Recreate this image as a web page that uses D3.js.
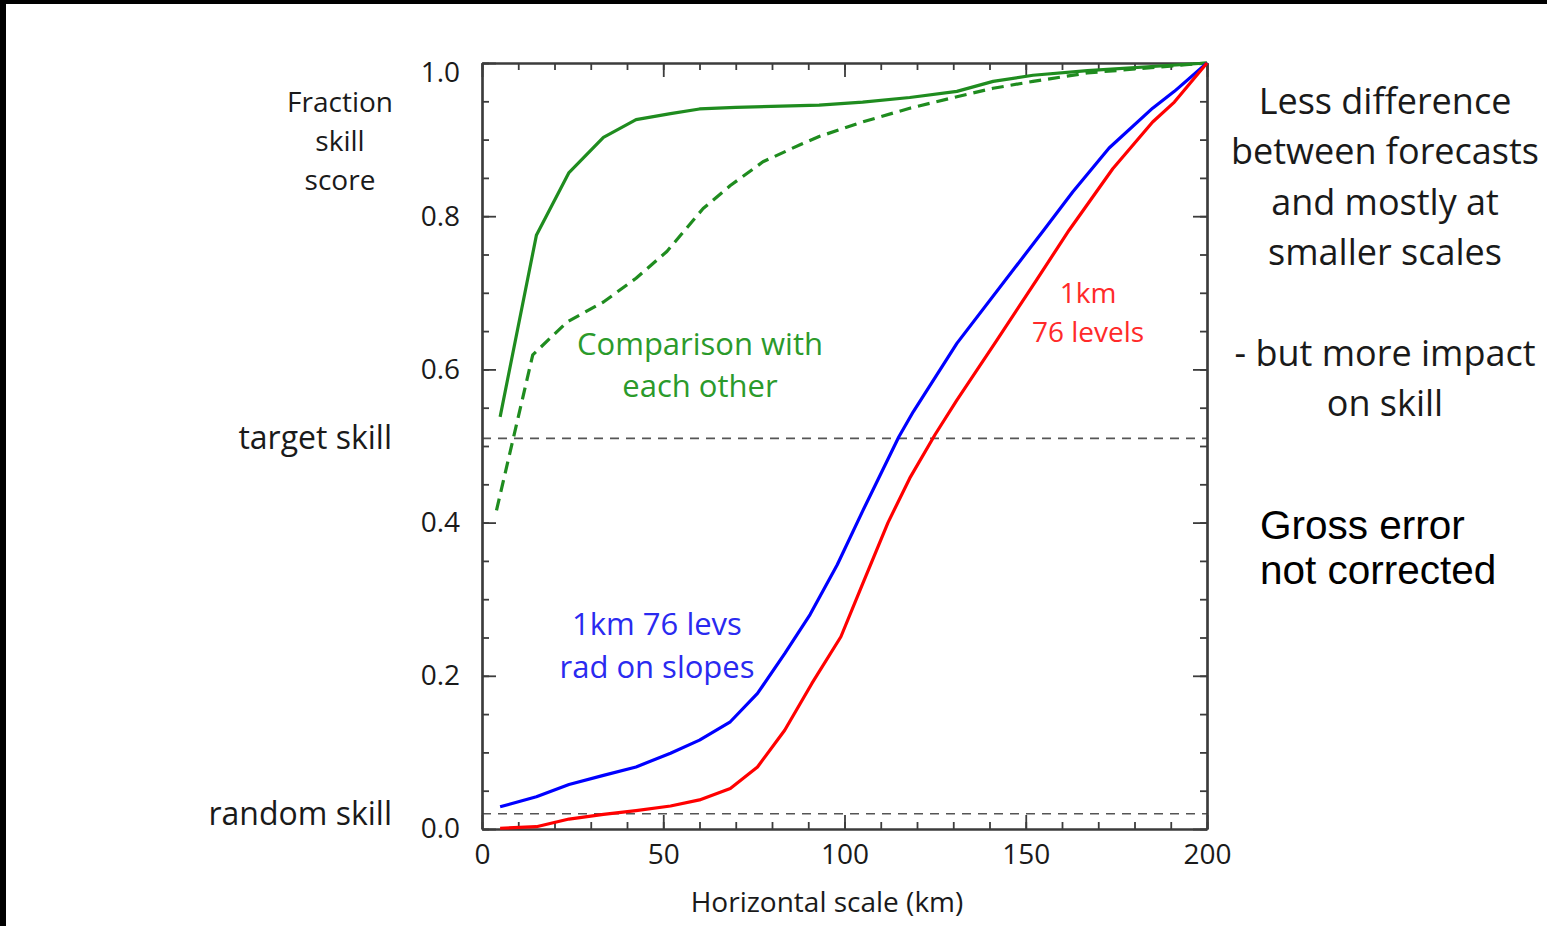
<!DOCTYPE html>
<html>
<head>
<meta charset="utf-8">
<script src="https://cdn.jsdelivr.net/npm/d3@7"></script>
<style>
	body { margin: 0; background: #fff; }
	svg { display: block; }
	text { font-family: "Open Sans", sans-serif; }
</style>
</head>
<body>
<svg id="fss"></svg>
<script>

/* data: fraction skill score against horizontal scale (km) */
var greenSolidX = [5, 15, 24, 33.5, 42.5, 52, 60, 70, 93, 105, 118, 131, 141, 152, 167, 200];
var greenSolidY = [0.538, 0.775, 0.857, 0.903, 0.926, 0.934, 0.940, 0.942, 0.945, 0.949, 0.955, 0.963, 0.976, 0.984, 0.990, 1.0];

var greenDashX = [4, 14, 23.5, 33.5, 42.5, 51, 61, 68.5, 77.5, 88.5, 93, 105, 118, 131, 141, 152, 167, 200];
var greenDashY = [0.416, 0.619, 0.662, 0.688, 0.719, 0.754, 0.81, 0.84, 0.871, 0.895, 0.904, 0.923, 0.941, 0.956, 0.967, 0.976, 0.987, 1.0];

var blueX = [5, 15, 24, 33.5, 42.5, 52, 60, 68.5, 76, 83.5, 90.5, 98, 105, 115, 119, 131, 155, 163, 173, 185, 191, 200];
var blueY = [0.029, 0.042, 0.058, 0.070, 0.081, 0.099, 0.116, 0.140, 0.177, 0.229, 0.280, 0.345, 0.415, 0.512, 0.545, 0.634, 0.782, 0.832, 0.889, 0.941, 0.963, 1.0];

var redX = [5, 15, 24, 33.5, 42.5, 52, 60, 68.5, 76, 83.5, 91, 99, 105, 112, 118, 125, 131, 142, 153, 162, 174, 185, 191, 200];
var redY = [0.001, 0.003, 0.013, 0.019, 0.024, 0.030, 0.038, 0.053, 0.081, 0.129, 0.190, 0.251, 0.32, 0.40, 0.458, 0.515, 0.56, 0.638, 0.717, 0.782, 0.862, 0.923, 0.949, 1.0];

var targetSkill = 0.51,
	randomSkill = 0.02;

var xMajorTicks = [0, 50, 100, 150, 200],
	yMajorTicks = [0, 0.2, 0.4, 0.6, 0.8, 1.0];

var yTitleLines = ["Fraction", "skill", "score"],
	greenLabel = ["Comparison with", "each other"],
	blueLabel = ["1km 76 levs", "rad on slopes"],
	redLabel = ["1km", "76 levels"],
	noteLines = ["Less difference", "between forecasts", "and mostly at", "smaller scales", "", "- but more impact", "on skill"],
	grossLines = ["Gross error", "not corrected"];

/* settings */
var width = 1547,
	height = 926,
	frame = { left: 482, right: 1207, top: 63, bottom: 829 },
	minorTick = 7,
	majorTick = 14,
	axisColor = "#3c3c3c";

var svg = d3.select("#fss")
	.attr("width", width)
	.attr("height", height);

svg.append("rect")
	.attr("width", width)
	.attr("height", height)
	.attr("fill", "#fff");

// black edges of the screenshot
svg.append("rect").attr("x", 0).attr("y", 0).attr("width", width).attr("height", 4).attr("fill", "#000");
svg.append("rect").attr("x", 0).attr("y", 0).attr("width", 6).attr("height", height).attr("fill", "#000");

/* scales */
var xScale = d3.scaleLinear().domain([0, 200]).range([frame.left, frame.right]);
var yScale = d3.scaleLinear().domain([0, 1]).range([frame.bottom, frame.top]);

/* reference lines */
svg.selectAll(".refline")
	.data([targetSkill, randomSkill])
	.enter().append("line")
	.attr("class", "refline")
	.attr("x1", xScale(0))
	.attr("x2", xScale(200))
	.attr("y1", function(d) { return yScale(d); })
	.attr("y2", function(d) { return yScale(d); })
	.attr("stroke", "#555")
	.attr("stroke-width", 1.6)
	.attr("stroke-dasharray", "9,7");

/* axes: minor ticks every 10 km / 0.05, major ones longer, all pointing inward */
function drawAxis(axisFn, scale, ticks, size, tx, ty, labels) {
	var a = axisFn(scale)
		.tickValues(ticks)
		.tickSizeInner(-size)
		.tickSizeOuter(0)
		.tickPadding(12);
	if (!labels) a.tickFormat("");
	else a.tickFormat(d3.format(labels));
	var g = svg.append("g")
		.attr("transform", "translate(" + tx + "," + ty + ")")
		.call(a);
	g.selectAll("line, path").attr("stroke", axisColor).attr("stroke-width", 1.8);
	g.select(".domain").attr("stroke-width", 2.2);
	g.selectAll("text")
		.attr("fill", "#1a1a1a")
		.style("font-size", "28px")
		.style("font-family", "'Open Sans', sans-serif");
	return g;
}

var xMinor = d3.range(0, 201, 10),
	yMinor = d3.range(0, 1.001, 0.05);

drawAxis(d3.axisBottom, xScale, xMinor, minorTick, 0, frame.bottom, null);
drawAxis(d3.axisTop, xScale, xMinor, minorTick, 0, frame.top, null);
drawAxis(d3.axisLeft, yScale, yMinor, minorTick, frame.left, 0, null);
drawAxis(d3.axisRight, yScale, yMinor, minorTick, frame.right, 0, null);

var xAxisG = drawAxis(d3.axisBottom, xScale, xMajorTicks, majorTick, 0, frame.bottom, "d");
xAxisG.selectAll("text").attr("y", 15);
drawAxis(d3.axisTop, xScale, xMajorTicks, majorTick, 0, frame.top, null);
var yAxisG = drawAxis(d3.axisLeft, yScale, yMajorTicks, majorTick, frame.left, 0, ".1f");
yAxisG.selectAll("text").attr("x", -22);
yAxisG.selectAll(".tick").filter(function(d) { return d === 1; })
	.select("text").attr("dy", "0.66em");
drawAxis(d3.axisRight, yScale, yMajorTicks, majorTick, frame.right, 0, null);

/* lines */
var line = d3.line()
	.x(function(d) { return xScale(d[0]); })
	.y(function(d) { return yScale(d[1]); });

var series = [
	{ id: "greenDash", x: greenDashX, y: greenDashY, color: "#1f8c1f", dash: "12,7" },
	{ id: "greenSolid", x: greenSolidX, y: greenSolidY, color: "#1f8c1f", dash: null },
	{ id: "blue", x: blueX, y: blueY, color: "#0000ff", dash: null },
	{ id: "red", x: redX, y: redY, color: "#ff0000", dash: null }
];

svg.selectAll(".chartline")
	.data(series)
	.enter().append("path")
	.attr("class", function(d) { return "chartline " + d.id; })
	.attr("fill", "none")
	.attr("stroke", function(d) { return d.color; })
	.attr("stroke-width", 3.2)
	.attr("stroke-linejoin", "round")
	.attr("stroke-dasharray", function(d) { return d.dash; })
	.attr("d", function(d) { return line(d.x.map(function(v, i) { return [v, d.y[i]]; })); });

/* text blocks */
function textBlock(lines, x, y, lineH, size, color, anchor, family) {
	var t = svg.append("text")
		.attr("x", x)
		.attr("y", y)
		.attr("fill", color)
		.attr("text-anchor", anchor)
		.style("font-size", size + "px");
	if (family) t.style("font-family", family);
	t.selectAll("tspan")
		.data(lines)
		.enter().append("tspan")
		.attr("x", x)
		.attr("y", function(d, i) { return y + i * lineH; })
		.text(function(d) { return d; });
	return t;
}

textBlock(yTitleLines, 340, 112, 39, 28, "#1a1a1a", "middle");
textBlock(["target skill"], 392, yScale(targetSkill) + 11, 0, 32, "#1a1a1a", "end");
textBlock(["random skill"], 392, yScale(randomSkill) + 11, 0, 32, "#1a1a1a", "end");

svg.append("text")
	.attr("x", 827)
	.attr("y", 912)
	.attr("text-anchor", "middle")
	.attr("fill", "#1a1a1a")
	.style("font-size", "28px")
	.text("Horizontal scale (km)");

textBlock(greenLabel, 700, 355, 42, 31, "#2b9a2b", "middle");
textBlock(blueLabel, 657, 635, 43, 31, "#2a2af0", "middle");
textBlock(redLabel, 1088, 303, 39, 28, "#ff2a2a", "middle");

textBlock(noteLines, 1385, 114, 50.3, 36, "#1a1a1a", "middle");

// one text element per line so the two lines stay clear of each other
grossLines.forEach(function(s, i) {
	textBlock([s], 1260, 539 + i * 45, 0, 40.5, "#000", "start", "'Liberation Sans', Arial, sans-serif");
});

</script>
</body>
</html>
